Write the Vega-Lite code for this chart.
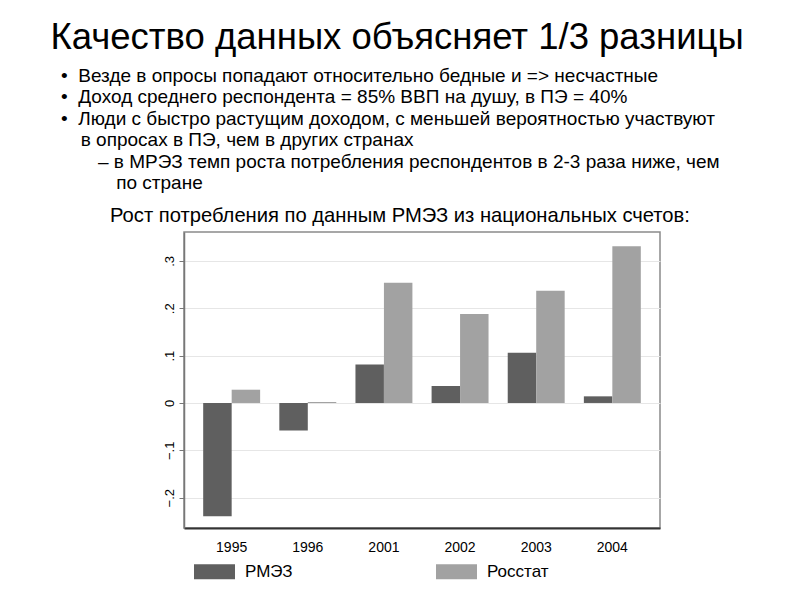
{
  "$schema": "https://vega.github.io/schema/vega-lite/v6.json",
  "background": "white",
  "padding": {"left": 50, "top": 19, "right": 5, "bottom": 5},
  "config": {
    "font": "Liberation Sans",
    "view": {"stroke": "#8a8a8a", "strokeWidth": 1.5},
    "concat": {"spacing": 0}
  },
  "title": {
    "text": "Качество данных объясняет 1/3 разницы",
    "subtitle": [
      "\u200b\u00a0\u00a0•\u00a0\u00a0Везде в опросы попадают относительно бедные и => несчастные",
      "\u200b\u00a0\u00a0•\u00a0\u00a0Доход среднего респондента = 85% ВВП на душу, в ПЭ = 40%",
      "\u200b\u00a0\u00a0•\u00a0\u00a0Люди с быстро растущим доходом, с меньшей вероятностью участвуют",
      "\u200b\u00a0\u00a0\u00a0\u00a0\u00a0\u2009в опросах в ПЭ, чем в других странах",
      "\u200b\u00a0\u00a0\u00a0\u00a0\u00a0\u00a0\u00a0\u00a0\u00a0–\u00a0в МРЭЗ темп роста потребления респондентов в 2-3 раза ниже, чем",
      "\u200b\u00a0\u00a0\u00a0\u00a0\u00a0\u00a0\u00a0\u00a0\u00a0\u00a0\u00a0\u2009\u2009по стране"
    ],
    "anchor": "start",
    "frame": "group",
    "dx": -133.5,
    "font": "Liberation Sans",
    "fontSize": 36.5,
    "fontWeight": "normal",
    "color": "#000000",
    "subtitleFont": "Liberation Sans",
    "subtitleFontSize": 19,
    "subtitleColor": "#000000",
    "subtitleLineHeight": 21.4,
    "subtitlePadding": 11,
    "offset": 12
  },
  "vconcat": [
    {
      "title": {
        "text": "Рост потребления по данным РМЭЗ из национальных счетов:",
        "anchor": "start",
        "frame": "group",
        "dx": -74,
        "font": "Liberation Sans",
        "fontSize": 20.2,
        "fontWeight": "normal",
        "color": "#000000",
        "offset": 6
      },
      "width": 476,
      "height": 296,
      "data": {
        "values": [
          {"year": "1995", "series": "РМЭЗ", "value": -0.239},
          {"year": "1995", "series": "Росстат", "value": 0.028},
          {"year": "1996", "series": "РМЭЗ", "value": -0.058},
          {"year": "1996", "series": "Росстат", "value": 0.002},
          {"year": "2001", "series": "РМЭЗ", "value": 0.081},
          {"year": "2001", "series": "Росстат", "value": 0.254},
          {"year": "2002", "series": "РМЭЗ", "value": 0.036},
          {"year": "2002", "series": "Росстат", "value": 0.188},
          {"year": "2003", "series": "РМЭЗ", "value": 0.106},
          {"year": "2003", "series": "Росстат", "value": 0.237},
          {"year": "2004", "series": "РМЭЗ", "value": 0.014},
          {"year": "2004", "series": "Росстат", "value": 0.331}
        ]
      },
      "mark": {"type": "bar"},
      "encoding": {
        "x": {
          "field": "year",
          "type": "nominal",
          "sort": null,
          "scale": {"paddingInner": 0.252, "paddingOuter": 0.252},
          "axis": {
            "title": null,
            "labelAngle": 0,
            "ticks": false,
            "labelPadding": 12,
            "labelFontSize": 14,
            "labelColor": "#000000",
            "domainColor": "#333333",
            "domainWidth": 2
          }
        },
        "xOffset": {
          "field": "series",
          "type": "nominal",
          "sort": ["РМЭЗ", "Росстат"],
          "scale": {"paddingInner": 0, "paddingOuter": 0}
        },
        "y": {
          "field": "value",
          "type": "quantitative",
          "scale": {"domain": [-0.264, 0.361], "nice": false, "zero": false},
          "axis": {
            "title": null,
            "values": [-0.2, -0.1, 0, 0.1, 0.2, 0.3],
            "labelExpr": "datum.value == 0 ? '0' : replace(format(datum.value, '.1f'), '0.', '.')",
            "labelAngle": -90,
            "labelAlign": "center",
            "labelBaseline": "bottom",
            "labelFontSize": 13,
            "labelColor": "#000000",
            "labelPadding": 3,
            "tickSize": 5,
            "tickColor": "#777777",
            "domainColor": "#777777",
            "domainWidth": 1.5,
            "grid": true,
            "gridColor": "#e6e6e6",
            "gridWidth": 1
          }
        },
        "color": {
          "field": "series",
          "type": "nominal",
          "sort": ["РМЭЗ", "Росстат"],
          "scale": {"domain": ["РМЭЗ", "Росстат"], "range": ["#5f5f5f", "#a2a2a2"]},
          "legend": {
            "title": null,
            "orient": "bottom",
            "direction": "horizontal",
            "symbolType": "M-1,-0.366H1V0.366H-1Z",
            "symbolSize": 1681,
            "symbolStrokeWidth": 0,
            "symbolOpacity": 1,
            "labelFontSize": 17,
            "labelColor": "#000000",
            "labelOffset": 10,
            "columnPadding": 143,
            "padding": 10,
            "offset": -14
          }
        }
      }
    }
  ]
}
